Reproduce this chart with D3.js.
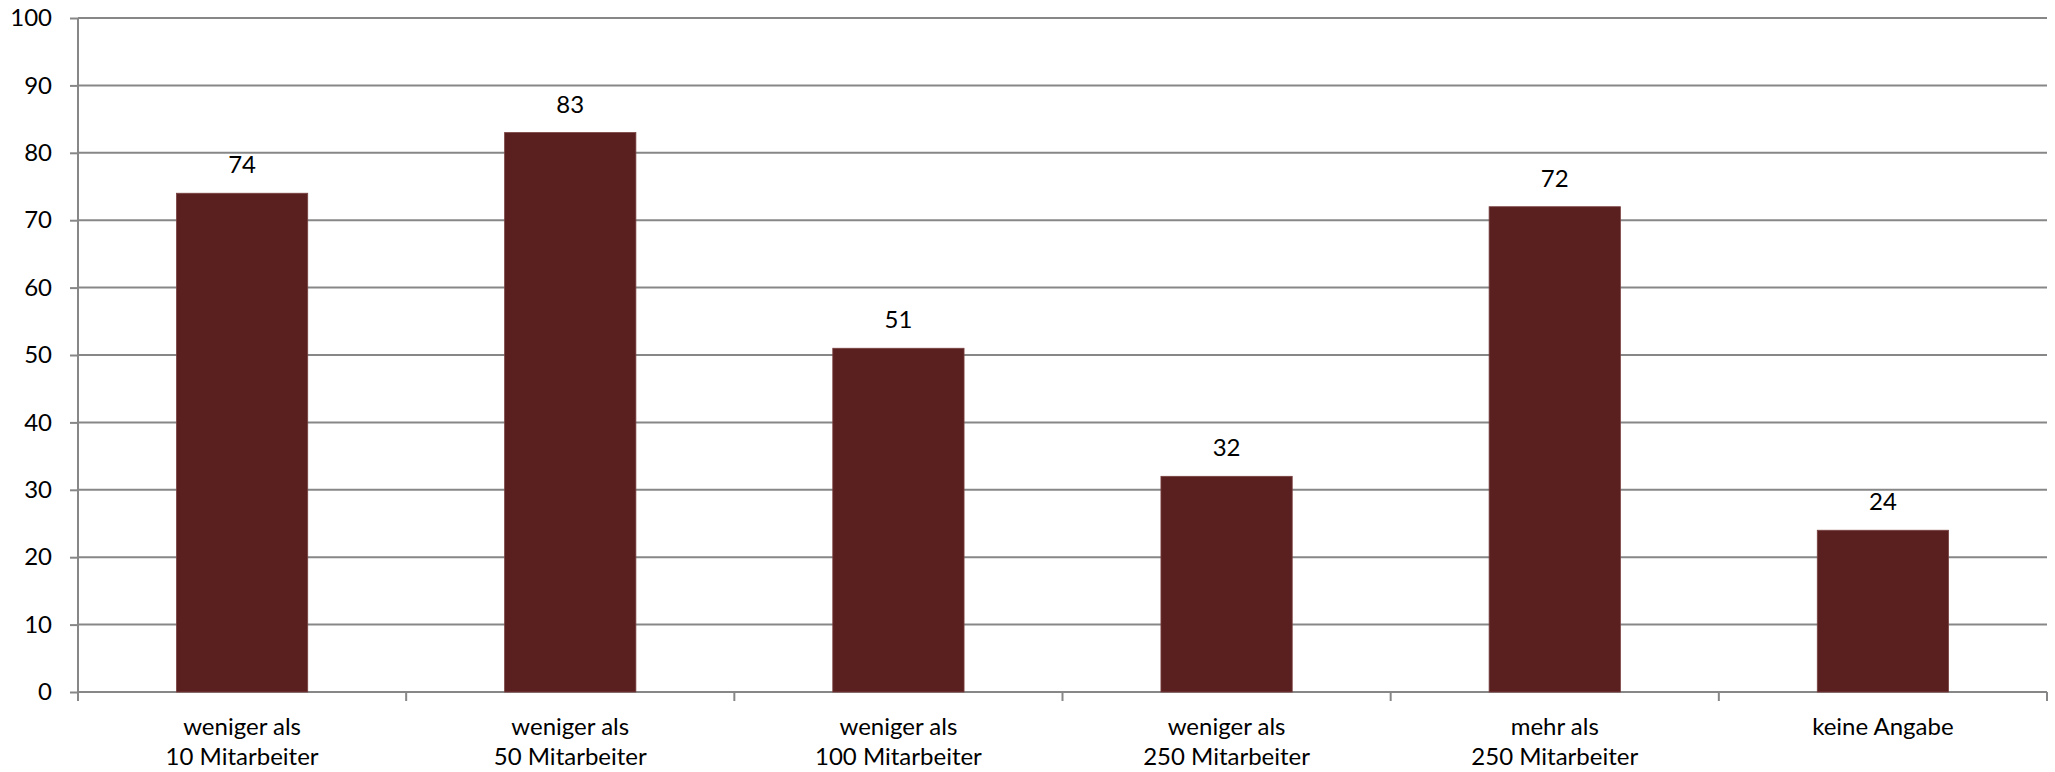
<!DOCTYPE html>
<html>
<head>
<meta charset="utf-8">
<script src="https://cdn.jsdelivr.net/npm/d3@7"></script>
<style>
  body { margin: 0; background: #fff; }
  text { font-family: Lato, "Open Sans", sans-serif; fill: #000; }
</style>
</head>
<body>
<svg id="chart" width="2055" height="772"></svg>
<script>
// data
var categories = [
  ['weniger als', '10 Mitarbeiter'],
  ['weniger als', '50 Mitarbeiter'],
  ['weniger als', '100 Mitarbeiter'],
  ['weniger als', '250 Mitarbeiter'],
  ['mehr als', '250 Mitarbeiter'],
  ['keine Angabe']
];
var values = [74, 83, 51, 32, 72, 24];
var yTicks = [0, 10, 20, 30, 40, 50, 60, 70, 80, 90, 100];

var GRID = '#878787';
var BAR = '#5a201f';

var margin = { left: 78, right: 8, top: 18, bottom: 80 };
var width = 2055, height = 772;

var svg = d3.select('#chart');

var x = d3.scaleBand()
    .domain(d3.range(categories.length))
    .range([margin.left, width - margin.right])
    .padding(0);

var y = d3.scaleLinear()
    .domain([0, 100])
    .range([height - margin.bottom, margin.top]);

// gridlines + y labels
var yAxis = svg.append('g')
    .attr('transform', 'translate(' + margin.left + ',0)')
    .call(d3.axisLeft(y).tickValues(yTicks).tickSize(8).tickPadding(18));
yAxis.select('.domain').remove();
yAxis.selectAll('.tick line').attr('stroke', GRID).attr('stroke-width', 2);
yAxis.selectAll('.tick text').style('font-size', '24px').attr('fill', '#000');

svg.append('g').selectAll('line')
    .data(yTicks)
    .enter().append('line')
    .attr('x1', margin.left).attr('x2', width - margin.right)
    .attr('y1', function(d) { return y(d); })
    .attr('y2', function(d) { return y(d); })
    .attr('stroke', GRID).attr('stroke-width', 2);

// vertical axis line
svg.append('line')
    .attr('x1', margin.left).attr('x2', margin.left)
    .attr('y1', y(100)).attr('y2', y(0) + 9)
    .attr('stroke', GRID).attr('stroke-width', 2);

// category ticks
var catTicks = d3.range(categories.length + 1).map(function(i) {
    return i < categories.length ? x(i) : x(categories.length - 1) + x.bandwidth();
});
svg.append('g').selectAll('line')
    .data(catTicks)
    .enter().append('line')
    .attr('x1', function(d) { return d; }).attr('x2', function(d) { return d; })
    .attr('y1', y(0)).attr('y2', y(0) + 9)
    .attr('stroke', GRID).attr('stroke-width', 2);

// bars
var barW = x.bandwidth() * 0.4;
svg.append('g').selectAll('rect')
    .data(values)
    .enter().append('rect')
    .attr('x', function(d, i) { return x(i) + (x.bandwidth() - barW) / 2; })
    .attr('y', function(d) { return y(d); })
    .attr('width', barW)
    .attr('height', function(d) { return y(0) - y(d); })
    .attr('fill', BAR)
    .attr('stroke', '#7a4040').attr('stroke-width', 0.8);

// value labels
svg.append('g').selectAll('text')
    .data(values)
    .enter().append('text')
    .attr('x', function(d, i) { return x(i) + x.bandwidth() / 2; })
    .attr('y', function(d) { return y(d) - 20; })
    .attr('text-anchor', 'middle')
    .style('font-size', '24px')
    .text(function(d) { return d; });

// category labels
var catG = svg.append('g').selectAll('text')
    .data(categories)
    .enter().append('text')
    .attr('text-anchor', 'middle')
    .style('font-size', '24px')
    .attr('transform', function(d, i) {
        return 'translate(' + (x(i) + x.bandwidth() / 2) + ',' + (y(0) + 43) + ')';
    });
catG.selectAll('tspan')
    .data(function(d) { return d; })
    .enter().append('tspan')
    .attr('x', 0)
    .attr('dy', function(d, i) { return i === 0 ? 0 : 30; })
    .text(function(d) { return d; });
</script>
</body>
</html>
